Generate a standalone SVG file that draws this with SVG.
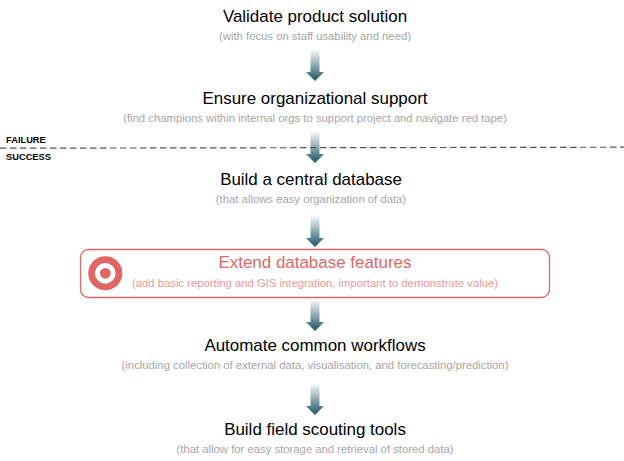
<svg xmlns="http://www.w3.org/2000/svg" width="624" height="461" viewBox="0 0 624 461">
<style>
text{font-family:"Liberation Sans",Arial,sans-serif;text-anchor:middle}
.t{font-size:16.95px;fill:#000}
.s{font-size:11.3px;fill:#a6a6a6}
.l{font-size:9.3px;font-weight:bold;fill:#000;text-anchor:start}
</style>
<defs>
<linearGradient id="g" x1="0" y1="0" x2="0" y2="1"><stop offset="0" stop-color="#376874" stop-opacity="0"/><stop offset="0.88" stop-color="#376874"/><stop offset="1" stop-color="#2f5f6c"/></linearGradient>
<path id="a" d="M-4.500-32V-9H-9L0 0 9-9H4.500V-32Z" fill="url(#g)"/>
</defs>
<rect width="624" height="461" fill="#fff"/>
<g id="connectors">
<line id="divider" x1="0" y1="148.200" x2="624" y2="147.200" stroke="#555" stroke-width="1.200" stroke-dasharray="6.500 3.500"/>
<use href="#a" x="315" y="81"/>
<use href="#a" x="315" y="163"/>
<use href="#a" x="315" y="247"/>
<use href="#a" x="315" y="331"/>
<use href="#a" x="315" y="415"/>
</g>
<g id="labels"><text class="l" x="6" y="143">FAILURE</text><text class="l" x="6" y="160">SUCCESS</text></g>
<g id="n1"><text class="t" x="315" y="22">Validate product solution</text><text class="s" x="315" y="40">(with focus on staff usability and need)</text></g>
<g id="n2"><text class="t" x="315" y="104">Ensure organizational support</text><text class="s" x="315" y="122">(find champions within internal orgs to support project and navigate red tape)</text></g>
<g id="n3"><text class="t" x="311" y="185">Build a central database</text><text class="s" x="311" y="203">(that allows easy organization of data)</text></g>
<g id="n4"><rect x="80.500" y="249.500" width="469" height="48" rx="8" fill="#fff" stroke="#e06666" stroke-width="1.300"/>
<circle cx="105.300" cy="273.300" r="13.700" fill="none" stroke="#e06666" stroke-width="6.700"/><circle cx="105.300" cy="273.300" r="5.400" fill="#e06666"/>
<text class="t" x="315" y="268" style="fill:#e06666">Extend database features</text><text class="s" x="315" y="287" style="fill:#ea9999">(add basic reporting and GIS integration, important to demonstrate value)</text></g>
<g id="n5"><text class="t" x="315" y="351">Automate common workflows</text><text class="s" x="315" y="369">(including collection of external data, visualisation, and forecasting/prediction)</text></g>
<g id="n6"><text class="t" x="315" y="435">Build field scouting tools</text><text class="s" x="315" y="453">(that allow for easy storage and retrieval of stored data)</text></g>
</svg>
